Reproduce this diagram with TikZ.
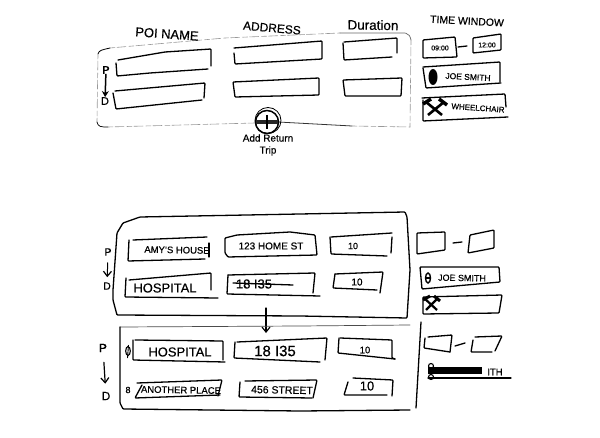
\documentclass[tikz,border=0pt]{standalone}
\usepackage{fontspec}
\setmainfont[FakeBold=0.5]{Liberation Sans}
\usetikzlibrary{arrows.meta}
\tikzset{
  sk/.style={line width=1.3bp,line cap=round,line join=round,black,rounded corners=0.8bp},
  faint/.style={line width=0.6bp,black!40,dash pattern=on 5bp off 2bp on 9bp off 3bp,line cap=round},
  arrowsk/.style={line width=1.2bp,line cap=round,-{Straight Barb[length=5bp,width=8bp,line width=1.2bp]}},
  lab/.style={inner sep=0pt,font=\fontsize{#1}{#1}\selectfont},
  lab/.default=9
}
\begin{document}
\begin{tikzpicture}[x=1bp,y=-1bp]
\useasboundingbox[fill=white] (0,0) rectangle (600,438);

% ---- top sketch: outer frame
\draw[faint] (110,48) -- (225,38) -- (340,33);
\draw[sk,line width=.8bp] (98,54) .. controls (99,50) and (102,50) .. (110,48);
\draw[sk,line width=.7bp,black!60] (340,33) -- (405,33) .. controls (409,34) and (410,36) .. (411,40);
\draw[faint] (411,40) -- (410,127);
\draw[faint] (98,54) -- (97,122);
\draw[sk,line width=.7bp] (97,122) .. controls (98,127) and (101,127) .. (108,127);
\draw[faint] (108,127) -- (255,123);
\draw[sk,line width=.8bp,black!80] (278,122) -- (352,126);
\draw[faint] (352,126) -- (410,127);

% headers
\node[lab=13,rotate=-4] (hpoi) at (167,34) {POI NAME};
\node[lab=12,rotate=-5] (haddr) at (272,28) {ADDRESS};
\node[lab=13.5,rotate=-1] (hdur) at (373,25) {Duration};
\node[lab=10.5,rotate=-3] (htw) at (467,21) {TIME WINDOW};

% top field boxes
\draw[sk] (118,60) -- (165,52) -- (211,49) -- (211,66);
\draw[sk] (208,69) -- (150,73) -- (117,76) -- (116,63);
\draw[sk] (234,48) -- (322,41) -- (322,59) -- (235,64) -- (234,53);
\draw[sk] (344,42) -- (397,38) -- (397,53);
\draw[sk] (392,57) -- (344,60) -- (343,43);
\draw[sk] (115,91) -- (205,83) -- (204,98);
\draw[sk] (202,100) -- (116,109) -- (113,93);
\draw[sk] (233,82) -- (319,78) -- (319,95) -- (235,97) -- cycle;
\draw[sk] (343,80) -- (402,78) -- (401,96) -- (345,96) -- cycle;

% P -> D
\node[lab=11] (p1) at (106,70) {P};
\node[lab=11] (d1) at (105,101) {D};
\draw[line width=1.5bp,-{Stealth[length=6bp,width=7bp]}] (p1) -- (d1);

% add return trip
\node[draw,circle,line width=1.5bp,minimum size=23bp,inner sep=0pt] (addc) at (267,122) {};
\draw[line width=.8bp] (268,120.5) circle (13);
\draw[line width=4bp,black!85] (256,122.5) -- (278,122.5);
\draw[line width=1.6bp] (267,115) -- (267,129);
\node[lab=10] (addt) at (268,138) {Add Return};
\node[lab=10] (tript) at (268,151) {Trip};

% time window, right column (top)
\draw[sk] (423,40) -- (455,37) -- (457,57) -- (423,58) -- cycle;
\node[lab=7] (t1) at (440,48) {09:00};
\draw[sk] (458,47) -- (467,46);
\draw[sk] (473,38) -- (501,34) -- (501,50) -- (473,53) -- cycle;
\node[lab=7] (t2) at (487,45) {12:00};
\draw[sk] (423,67) -- (500,62) -- (500,82);
\draw[sk] (501,83) -- (426,88) -- (423,68);
\fill (433,77) ellipse (4.5 and 8);
\node[lab=8.5,rotate=-3] (j1) at (468,77) {JOE SMITH};
\draw[sk] (422,98) -- (505,94) -- (506,107);
\draw[sk] (508,117) -- (423,121) -- (423,100);
\draw[line width=2.6bp] (426,102) -- (442,115) (444,102) -- (428,115);
\draw[line width=3.5bp] (423,104) -- (431,99) (439,99) -- (447,105);
\node[lab=8,rotate=-4] (w1) at (478,108) {WHEELCHAIR};

% ---- middle sketch: outer frame
\draw[sk] (113,290) -- (117,233) -- (123,223) -- (140,217) -- (300,214) -- (405,212) -- (407,217) -- (410,270) -- (407,318) -- (300,316) -- (117,315) -- (113,300) -- cycle;

\draw[sk] (133,240) -- (207,237);
\draw[sk] (129,240) -- (128,261) -- (205,259);
\draw[sk] (209,243) -- (209,257);
\node[lab=9.5,rotate=-1] (n1) at (177,250) {AMY'S HOUSE};

\draw[sk] (225,238) -- (237,235) -- (290,232) -- (315,235) -- (317,255) -- (228,257) -- (225,253) -- cycle;
\node[lab=10] (n2) at (271,246) {123 HOME ST};

\draw[sk] (331,237) -- (392,233);
\draw[sk] (330,237) -- (331,254) -- (387,256);
\draw[sk] (392,237) -- (391,253);
\node[lab=9] (n3) at (353,246) {10};

\draw[sk] (129,280) -- (211,273) -- (211,290);
\draw[sk] (126,278) -- (125,297) -- (218,298);
\node[lab=13] (n4) at (165,288) {HOSPITAL};

\draw[sk] (228,275) -- (315,273) -- (313,293);
\draw[sk] (228,275) -- (227,294) -- (320,296);
\node[lab=13] (n5) at (254,284) {18 I35};
\draw[sk] (233,283) -- (293,285);

\draw[sk] (335,274) -- (383,272) -- (380,293);
\draw[sk] (335,274) -- (333,288) -- (377,290);
\node[lab=10] (n6) at (357,282) {10};

\node[lab=10.5] (p2) at (108,252) {P};
\node[lab=10.5] (d2) at (107,286) {D};
\draw[arrowsk,line width=1bp,shorten <=7bp,shorten >=5bp] (p2) -- (d2);

% time window (middle)
\draw[sk] (417,233) -- (445,232) -- (445,250) -- (417,254) -- cycle;
\draw[sk] (453,243) -- (462,242);
\draw[sk] (470,235) -- (494,230) -- (494,248) -- (468,253) -- cycle;
\draw[sk] (420,267) -- (499,267) -- (500,282) -- (422,289) -- cycle;
\draw[line width=1.4bp] (428,278) ellipse (2.5 and 5);
\draw[line width=1bp] (425.5,278) -- (430.5,278);
\node[lab=9,rotate=-1] (j2) at (462,278) {JOE SMITH};
\draw[sk] (423,297) -- (502,295) -- (499,313) -- (423,314) -- cycle;
\draw[line width=2.2bp] (424,298) -- (437,310) (438,298) -- (426,310);
\draw[line width=3bp] (423,300) -- (430,296) (434,296) -- (440,301);

% connector between the two lower sketches
\coordinate (ar1) at (266,308);
\coordinate (ar2) at (266,333);
\draw[arrowsk] (ar1) -- (ar2);

% ---- bottom sketch: outer frame
\draw[sk,line width=.7bp,black!70] (120,327) -- (300,326) -- (410,325);
\draw[sk] (120,327) -- (120,403) -- (123,409) -- (300,411) -- (410,410);
\draw[sk] (421,322) -- (416,408);

\draw[sk] (135,340) -- (223,341) -- (223,360);
\draw[sk] (133,340) -- (133,360) -- (225,362);
\node[lab=13] (m1) at (180,352) {HOSPITAL};
\draw[line width=1.1bp] (128,351) ellipse (2.3 and 4.5);
\draw[line width=.9bp] (128.5,345) -- (127.5,358);

\draw[sk] (237,342) -- (327,338) -- (325,360);
\draw[sk] (235,342) -- (234,358) -- (320,362);
\node[lab=15] (m2) at (275,351) {18 I35};

\draw[sk] (340,338) -- (392,340) -- (392,358) -- (395,359);
\draw[sk] (339,338) -- (338,353) -- (395,359);
\node[lab=9.5] (m3) at (365,350) {10};

\draw[sk] (137,383) -- (222,380) -- (218,396);
\draw[sk] (142,385) -- (135,398) -- (220,395);
\node[lab=9.5,rotate=-1] (m4) at (181,390) {ANOTHER PLACE};
\node[lab=9] (m4b) at (128,390) {8};

\draw[sk] (245,381) -- (317,380) -- (313,398);
\draw[sk] (240,382) -- (239,397) -- (312,398);
\node[lab=10.5,rotate=-1] (m5) at (282,390) {456 STREET};

\draw[sk] (353,378) -- (393,380) -- (392,396);
\draw[sk] (348,382) -- (344,395) -- (387,395);
\node[lab=13] (m6) at (367,386) {10};

\node[lab=12] (p3) at (103,348) {P};
\node[lab=12] (d3) at (106,396) {D};
\draw[arrowsk,shorten <=10bp,shorten >=8bp] (p3) -- (d3);

% time window (bottom)
\draw[sk] (428,337) -- (452,335) -- (450,352);
\draw[sk] (425,338) -- (424,348) -- (450,352);
\draw[sk] (455,346) -- (465,343);
\draw[sk] (475,337) -- (502,336) -- (495,351);
\draw[sk] (473,340) -- (471,352) -- (492,352);
\fill (428,367) rectangle (482,374);
\draw[line width=1.1bp] (431,366) circle (2.5) (431,377) circle (2.5);
\node[lab=9.5] (m7) at (495,372) {ITH};
\draw[sk] (428,378) -- (511,378);
\end{tikzpicture}
\end{document}
